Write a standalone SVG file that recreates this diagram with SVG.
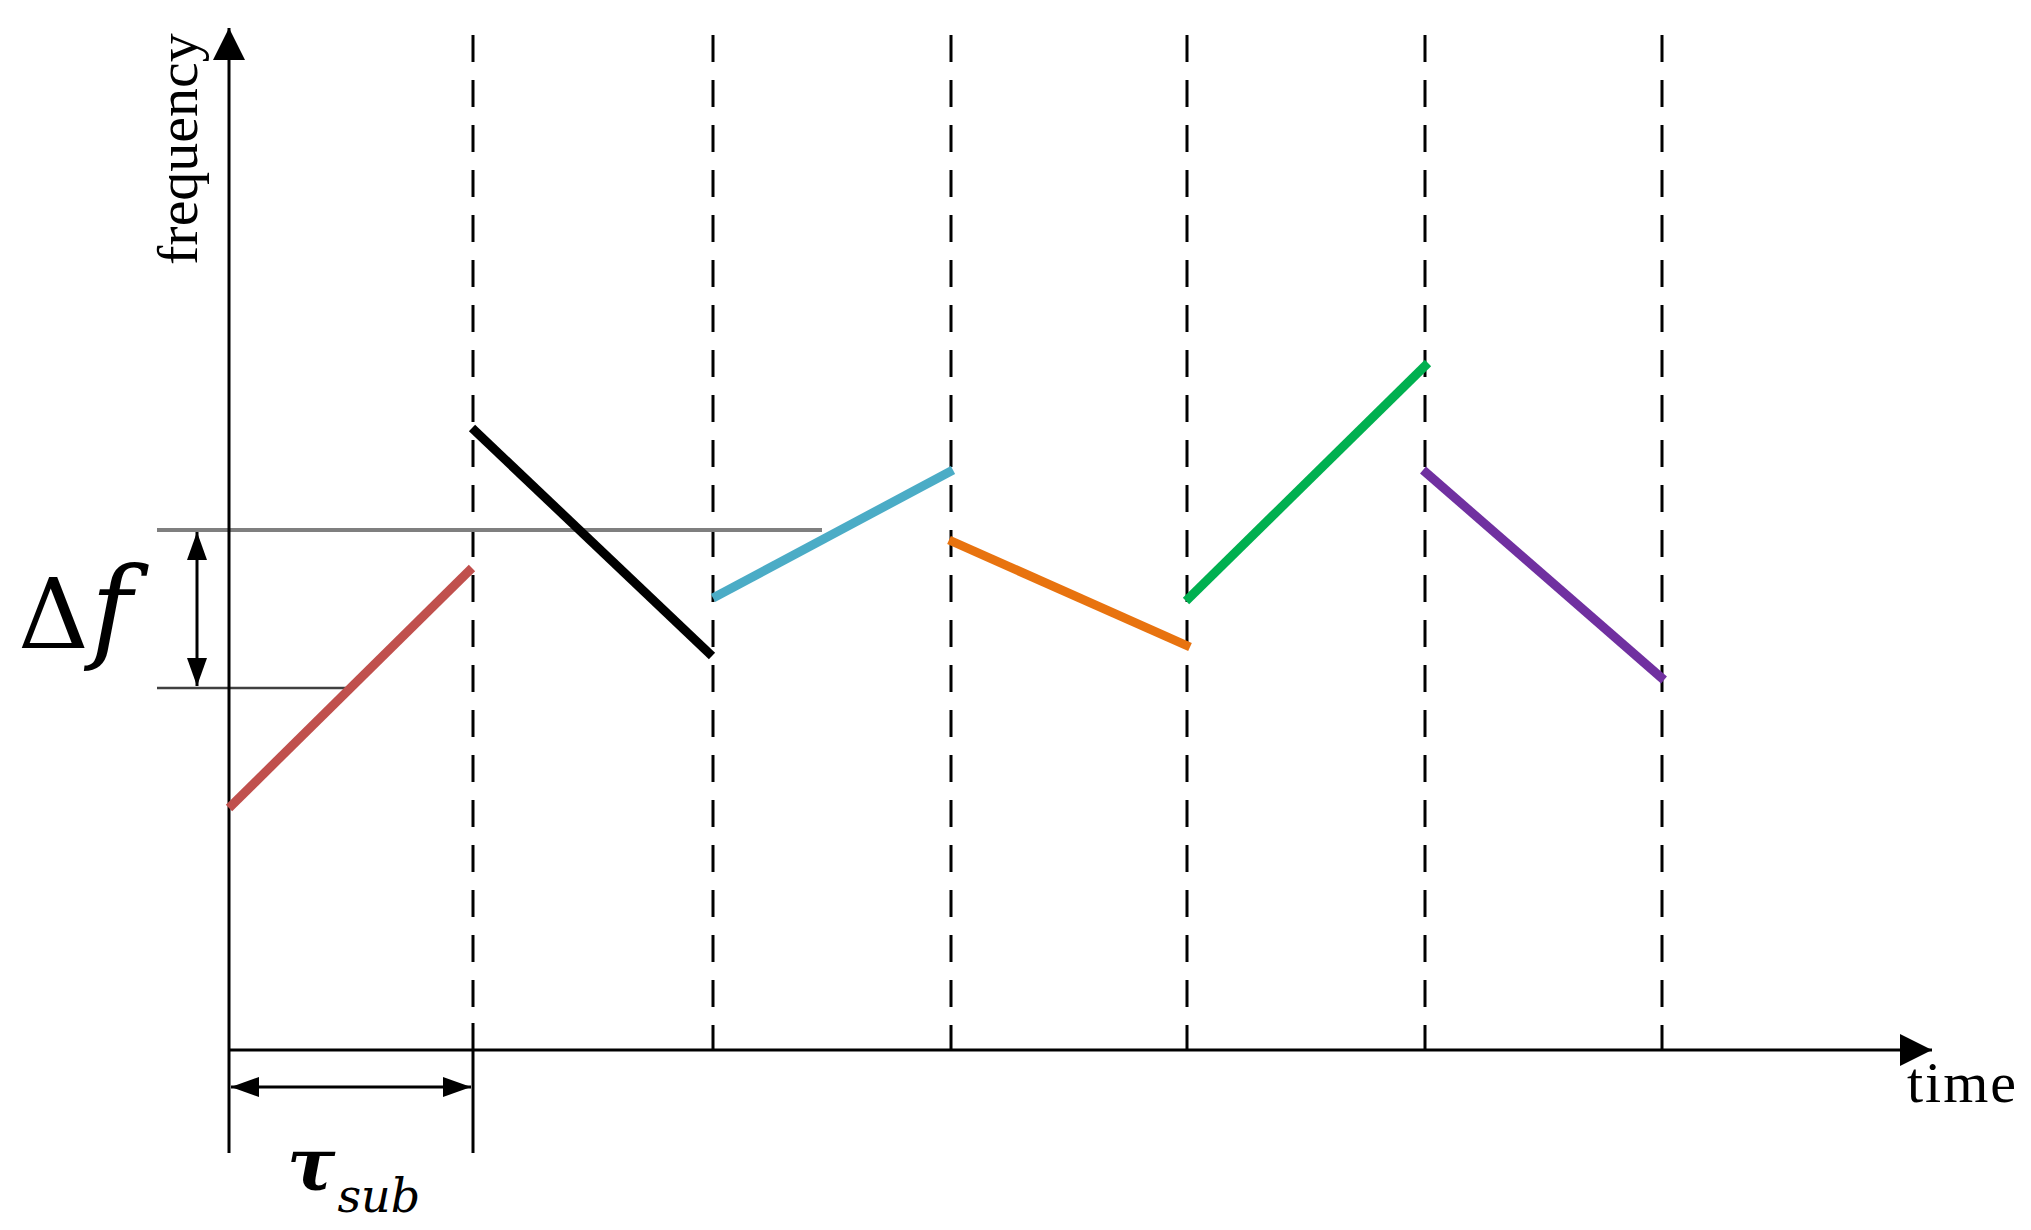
<svg xmlns="http://www.w3.org/2000/svg" width="2031" height="1230" viewBox="0 0 2031 1230">
<style>
.axis{stroke:#000;stroke-width:3;fill:none}
.dash{stroke:#000;stroke-width:3;stroke-dasharray:27 18;fill:none}
.seg{stroke-width:9;fill:none;stroke-linecap:butt}
.lbl{font-family:"Liberation Serif","Times New Roman",serif;fill:#000}
.math{font-family:"DejaVu Serif","Liberation Serif",serif;fill:#000}
</style>
<defs>
<marker id="ah" markerUnits="userSpaceOnUse" markerWidth="32" markerHeight="32" viewBox="0 0 32 32" refX="30" refY="16" orient="auto-start-reverse">
<path d="M2,6 L30,16 L2,26 Z" fill="#000"/>
</marker>
<marker id="ax" markerUnits="userSpaceOnUse" markerWidth="36" markerHeight="40" viewBox="0 0 36 40" refX="32" refY="20" orient="auto">
<path d="M0,4 L32,20 L0,36 Z" fill="#000"/>
</marker>
</defs>
<rect width="2031" height="1230" fill="#fff"/>
<g id="guides">
<line class="dash" x1="473" y1="35" x2="473" y2="1023"/>
<line class="axis" x1="473" y1="1023" x2="473" y2="1153"/>
<line class="dash" x1="713" y1="35" x2="713" y2="1050"/>
<line class="dash" x1="951" y1="35" x2="951" y2="1050"/>
<line class="dash" x1="1187" y1="35" x2="1187" y2="1050"/>
<line class="dash" x1="1425" y1="35" x2="1425" y2="1050"/>
<line class="dash" x1="1662" y1="35" x2="1662" y2="1050"/>
<line x1="157" y1="530" x2="822" y2="530" stroke="#7f7f7f" stroke-width="4"/>
<line x1="157" y1="688" x2="347" y2="688" stroke="#404040" stroke-width="2.5"/>
</g>
<g id="axes">
<line class="axis" x1="229" y1="1153" x2="229" y2="28" marker-end="url(#ax)"/>
<line class="axis" x1="229" y1="1050" x2="1932" y2="1050" marker-end="url(#ax)"/>
</g>
<g id="segments">
<line class="seg" stroke="#C0504D" x1="229" y1="808" x2="472" y2="568"/>
<line class="seg" stroke="#000000" x1="472" y1="428" x2="712" y2="656"/>
<line class="seg" stroke="#4BACC6" x1="713" y1="598" x2="953" y2="470"/>
<line class="seg" stroke="#E8730F" x1="949" y1="540" x2="1190" y2="647"/>
<line class="seg" stroke="#00B050" x1="1186" y1="601" x2="1428" y2="363"/>
<line class="seg" stroke="#7030A0" x1="1423" y1="470" x2="1664" y2="680"/>
</g>
<g id="dimensions">
<line class="axis" x1="197" y1="532" x2="197" y2="686" marker-start="url(#ah)" marker-end="url(#ah)"/>
<line class="axis" x1="231" y1="1087" x2="471" y2="1087" marker-start="url(#ah)" marker-end="url(#ah)"/>
</g>
<g id="labels">
<text class="lbl" font-size="58" transform="translate(197,265) rotate(-90)">frequency</text>
<text class="lbl" font-size="58" x="1907" y="1102" letter-spacing="2">time</text>
<text class="math" font-size="98" x="18" y="648">Δ<tspan font-style="italic" font-size="112" dx="2">f</tspan></text>
<text class="math" x="287" y="1190"><tspan font-size="72" font-style="italic" font-weight="bold">τ</tspan><tspan font-size="46" font-style="italic" dx="2" dy="22">sub</tspan></text>
</g>
</svg>
